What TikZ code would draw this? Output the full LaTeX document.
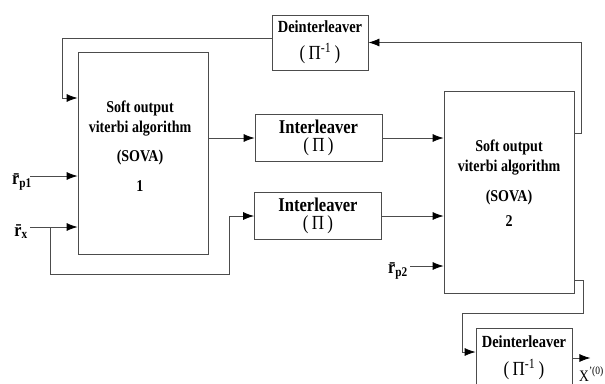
\documentclass[tikz,border=0pt]{standalone}
\usepackage{fontspec}
\setmainfont{Liberation Serif}[FakeStretch=0.85]
\usetikzlibrary{arrows.meta}

\begin{document}
\begin{tikzpicture}[x=1pt,y=-1pt,
    blk/.style={draw=black!70, line width=0.8pt, inner sep=0pt, align=center},
    wire/.style={draw=black!70, line width=0.8pt},
    arr/.style={wire, -{Latex[length=11pt,width=8pt,black]}},
    sovatxt/.style={font=\bfseries\fontsize{16.5}{20}\selectfont, align=center},
    intlv/.style={blk, minimum width=127pt, minimum height=47pt},
    deintlv/.style={blk, minimum width=96pt, minimum height=55pt},
    inlbl/.style={font=\bfseries\fontsize{19}{19}\selectfont, inner sep=0pt}]
    \useasboundingbox (0,0) rectangle (605,383);
    \clip (0,0) rectangle (605,383);

    % SOVA decoders
    \node[blk, minimum width=130pt, minimum height=202pt] (sova1) at (143,153) {};
    \node[sovatxt] (sova1txt) at (140,146) {Soft output\\viterbi algorithm\\[9pt](SOVA)\\[10pt]1};
    \node[blk, minimum width=130pt, minimum height=202pt] (sova2) at (509,192) {};
    \node[sovatxt] (sova2txt) at (509,183) {Soft output\\viterbi algorithm\\[10pt](SOVA)\\[5pt]2};

    % Interleavers
    \node[intlv] (int1) at (318.5,138) {\bfseries\fontsize{19.5}{21}\selectfont Interleaver\\[3pt]{\fontsize{20}{20}\selectfont(\,Π\,)}};
    \node[intlv] (int2) at (318,216) {\bfseries\fontsize{19.5}{21}\selectfont Interleaver\\[3pt]{\fontsize{20}{20}\selectfont(\,Π\,)}};

    % Deinterleavers
    \node[deintlv] (deint1) at (320,42.5) {\bfseries\fontsize{17}{20}\selectfont Deinterleaver\\[9pt]{\fontsize{20}{20}\selectfont(\,Π\textsuperscript{-1}\,)}};
    \node[deintlv, minimum height=60pt] (deint2) at (524,358) {\bfseries\fontsize{17}{20}\selectfont Deinterleaver\\[10pt]{\fontsize{20}{20}\selectfont(\,Π\textsuperscript{-1}\,)}};

    % Inputs and output
    \node[inlbl, anchor=east] (rp1) at (32,182) {\={r}\textsubscript{p1}};
    \node[inlbl, anchor=east] (rx) at (28,232) {\={r}\textsubscript{x}};
    \node[inlbl, anchor=east] (rp2) at (408,271) {\={r}\textsubscript{p2}};
    \node[font=\fontsize{16}{16}\selectfont, inner sep=0pt, anchor=east] (xout) at (604,374) {X\textsuperscript{'(0)}};
    \coordinate (rp1in) at (30,176);
    \coordinate (rxin) at (30,227);
    \coordinate (tap) at (50,227);
    \coordinate (rp2in) at (410,266);

    % Forward path
    \draw[arr] (rp1in) -- (rp1in -| sova1.west);
    \draw[arr] (rxin) -- (rxin -| sova1.west);
    \draw[arr] (tap) -- ++(0,47) -- ++(179,0) |- (int2.west);
    \draw[arr] (rp2in) -- (rp2in -| sova2.west);
    \draw[arr] (sova1.east |- int1.west) -- (int1.west);
    \draw[arr] (int1.east) -- (int1.east -| sova2.west);
    \draw[arr] (int2.east) -- (int2.east -| sova2.west);

    % Feedback through deinterleaver
    \draw[arr] ([yshift=59pt]sova2.east) -- ++(7,0) |- (deint1.east);
    \draw[arr] ([yshift=4pt]deint1.west) -- ++(-209,0) |- ([yshift=55pt]sova1.west);

    % Output deinterleaver
    \draw[arr] ([yshift=-88pt]sova2.east) -- ++(9,0) -- ++(0,33) -- ++(-121,0) |- ([yshift=6pt]deint2.west);
    \draw[arr] (deint2.east) -- ++(18,0);
\end{tikzpicture}
\end{document}
